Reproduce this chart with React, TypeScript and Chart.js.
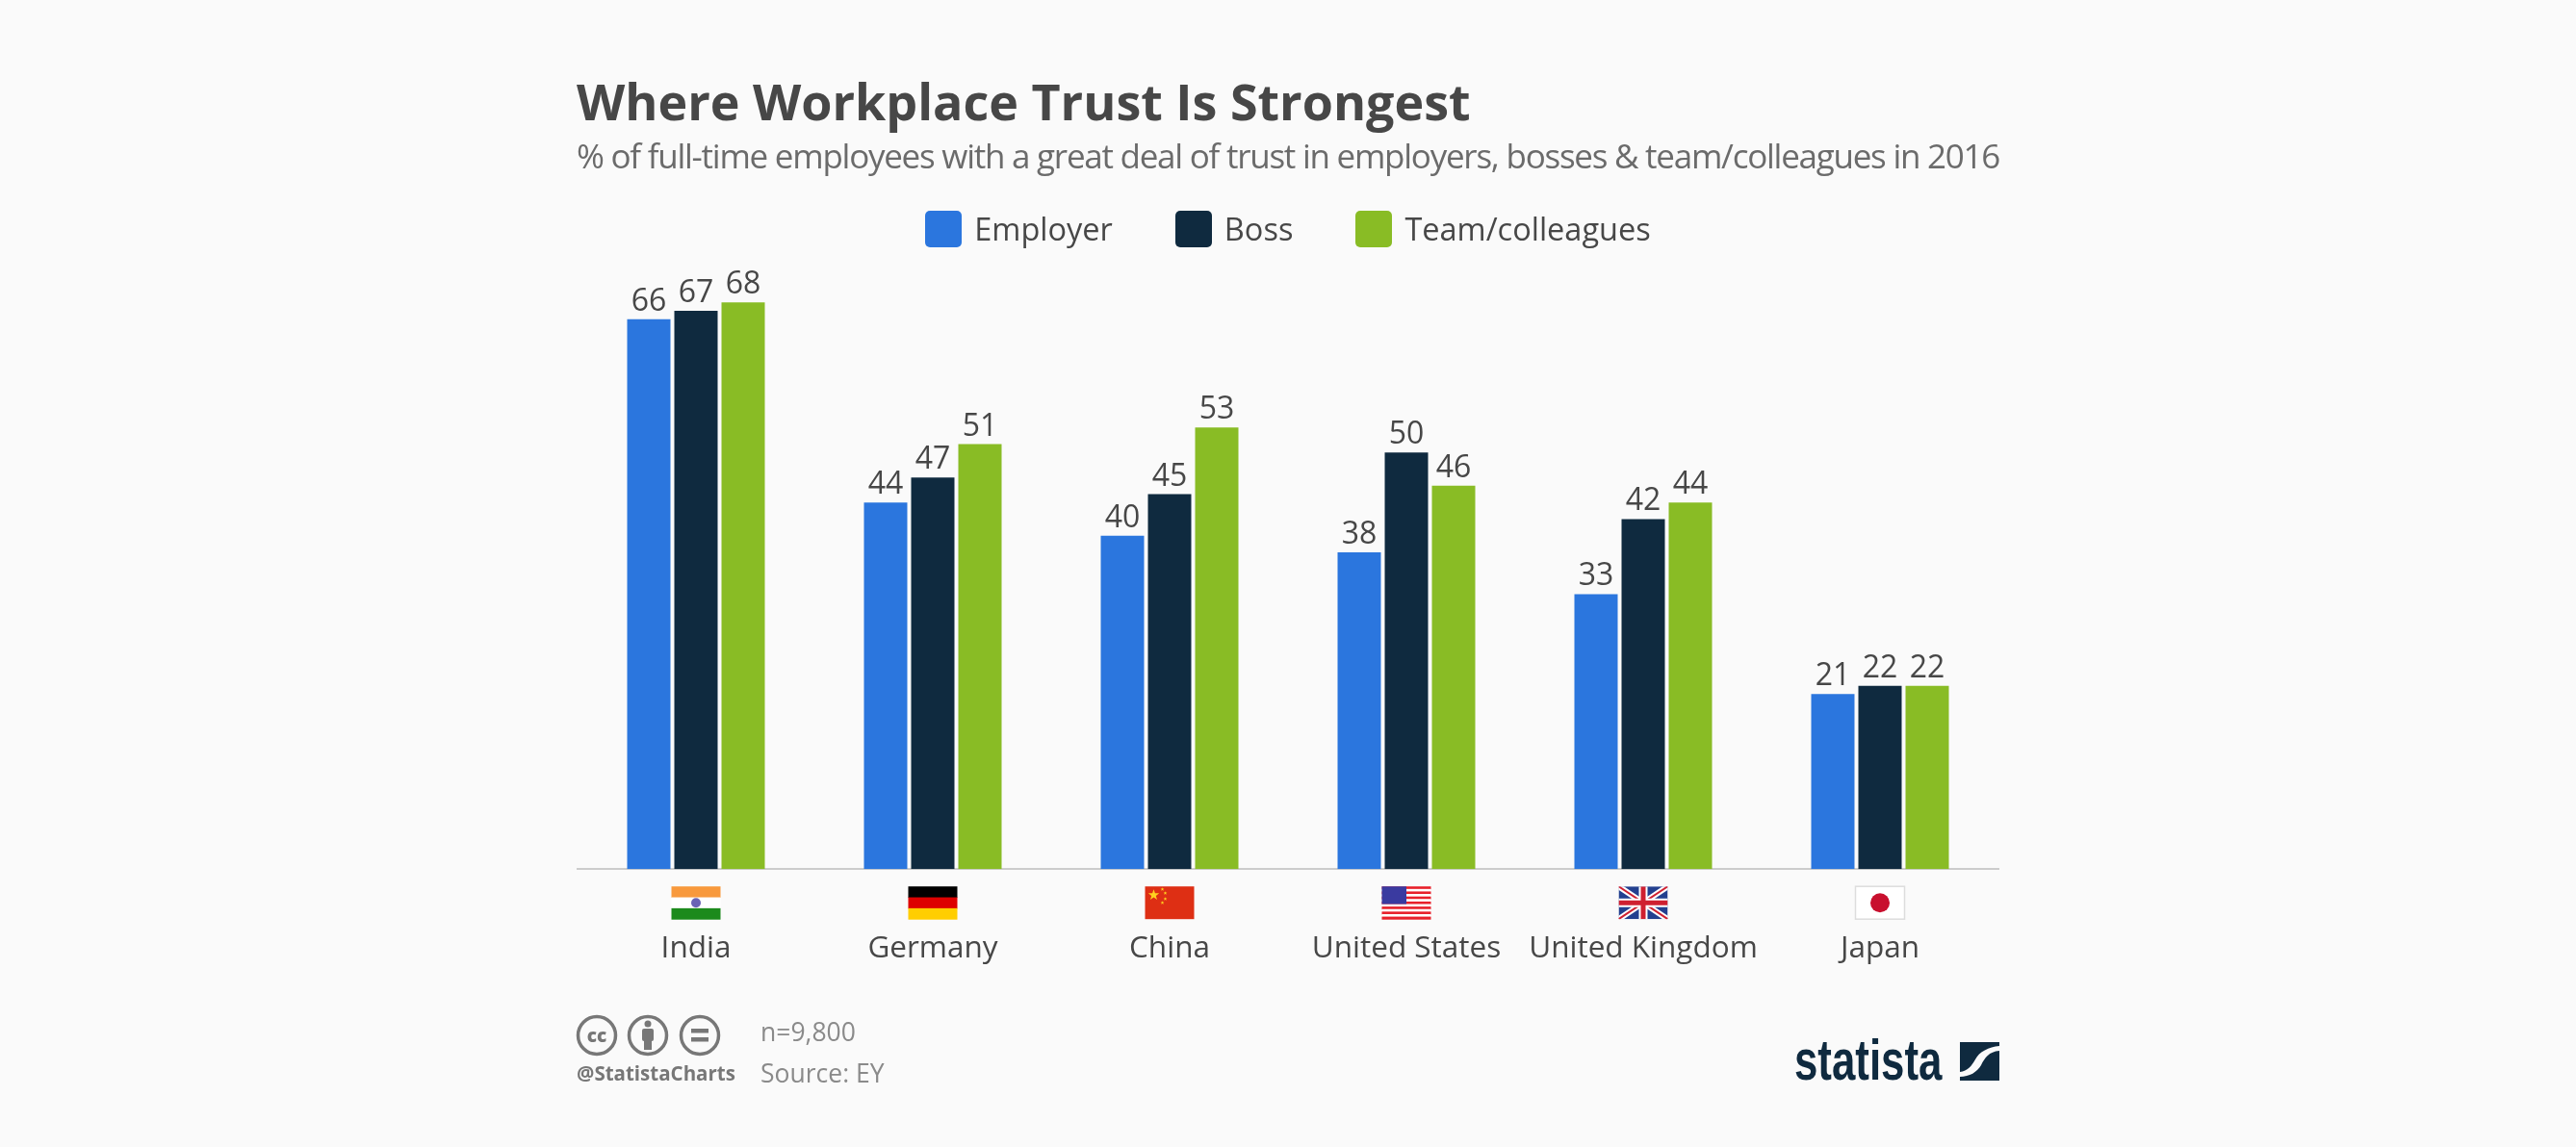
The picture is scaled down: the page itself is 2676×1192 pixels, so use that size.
import { useEffect, useRef } from 'react';
import { Chart, registerables } from 'chart.js';
import type { Plugin } from 'chart.js';

Chart.register(...registerables);

const countries = ['India', 'Germany', 'China', 'United States', 'United Kingdom', 'Japan'];
const employer = [66, 44, 40, 38, 33, 21];
const boss = [67, 47, 45, 50, 42, 22];
const team = [68, 51, 53, 46, 44, 22];

const seriesNames = ['Employer', 'Boss', 'Team/colleagues'];
const seriesColors = ['#2b76de', '#0f2a3f', '#89bc25'];

const TEXT_DARK = '#474747';
const FONT = '"Open Sans", sans-serif';

type FlagPainter = (ctx: CanvasRenderingContext2D, x: number, y: number, w: number, h: number) => void;

const bands = (colors: string[]): FlagPainter => (ctx, x, y, w, h) => {
  colors.forEach((c, i) => {
    ctx.fillStyle = c;
    ctx.fillRect(x, y + (i * h) / colors.length, w, h / colors.length + 0.5);
  });
};

const star = (ctx: CanvasRenderingContext2D, cx: number, cy: number, r: number) => {
  ctx.beginPath();
  for (let i = 0; i < 10; i++) {
    const rad = i % 2 === 0 ? r : r * 0.4;
    const a = -Math.PI / 2 + (i * Math.PI) / 5;
    ctx.lineTo(cx + rad * Math.cos(a), cy + rad * Math.sin(a));
  }
  ctx.closePath();
  ctx.fill();
};

const flags: FlagPainter[] = [
  // India
  (ctx, x, y, w, h) => {
    bands(['#f8993c', '#ffffff', '#1c8a1c'])(ctx, x, y, w, h);
    ctx.fillStyle = '#6a63b5';
    ctx.beginPath();
    ctx.arc(x + w / 2, y + h / 2, 5, 0, Math.PI * 2);
    ctx.fill();
  },
  // Germany
  bands(['#000000', '#dd0000', '#ffce00']),
  // China
  (ctx, x, y, w, h) => {
    ctx.fillStyle = '#de2f14';
    ctx.fillRect(x, y, w, h);
    ctx.fillStyle = '#ffd21f';
    star(ctx, x + 9, y + 9, 6);
    [[18, 3], [21, 7], [21, 13], [18, 17]].forEach(([dx, dy]) => star(ctx, x + dx, y + dy, 2));
  },
  // United States
  (ctx, x, y, w, h) => {
    const stripes = Array.from({ length: 13 }, (_, i) => (i % 2 === 0 ? '#e8202a' : '#ffffff'));
    bands(stripes)(ctx, x, y, w, h);
    ctx.fillStyle = '#3a3aa0';
    ctx.fillRect(x, y, w * 0.5, (h * 7) / 13);
  },
  // United Kingdom
  (ctx, x, y, w, h) => {
    ctx.save();
    ctx.beginPath();
    ctx.rect(x, y, w, h);
    ctx.clip();
    ctx.fillStyle = '#23408f';
    ctx.fillRect(x, y, w, h);
    const line = (color: string, width: number, x1: number, y1: number, x2: number, y2: number) => {
      ctx.strokeStyle = color;
      ctx.lineWidth = width;
      ctx.beginPath();
      ctx.moveTo(x1, y1);
      ctx.lineTo(x2, y2);
      ctx.stroke();
    };
    [['#ffffff', 6], ['#cf2030', 2]].forEach(([c, lw]) => {
      line(c as string, lw as number, x, y, x + w, y + h);
      line(c as string, lw as number, x + w, y, x, y + h);
    });
    [['#ffffff', 9], ['#cf2030', 5]].forEach(([c, lw]) => {
      line(c as string, lw as number, x + w / 2, y, x + w / 2, y + h);
      line(c as string, lw as number, x, y + h / 2, x + w, y + h / 2);
    });
    ctx.restore();
  },
  // Japan
  (ctx, x, y, w, h) => {
    ctx.fillStyle = '#ffffff';
    ctx.fillRect(x, y, w, h);
    ctx.strokeStyle = '#dddddd';
    ctx.lineWidth = 1.5;
    ctx.strokeRect(x, y, w, h);
    ctx.fillStyle = '#c8102e';
    ctx.beginPath();
    ctx.arc(x + w / 2, y + h / 2, 10, 0, Math.PI * 2);
    ctx.fill();
  },
];

// numbers above the bars
const valueLabels: Plugin<'bar'> = {
  id: 'valueLabels',
  afterDatasetsDraw(chart) {
    const { ctx } = chart;
    ctx.save();
    ctx.font = `32px ${FONT}`;
    ctx.fillStyle = TEXT_DARK;
    ctx.textAlign = 'center';
    ctx.textBaseline = 'alphabetic';
    chart.data.datasets.forEach((ds, i) => {
      chart.getDatasetMeta(i).data.forEach((bar, j) => {
        ctx.fillText(String(ds.data[j]), bar.x, bar.y - 9);
      });
    });
    ctx.restore();
  },
};

// flags between the axis line and the country names
const flagRow: Plugin<'bar'> = {
  id: 'flagRow',
  afterDraw(chart) {
    const { ctx, scales } = chart;
    const w = 51;
    const h = 34;
    const top = scales.x.top + 18;
    countries.forEach((_, i) => {
      const cx = scales.x.getPixelForTick(i);
      ctx.save();
      flags[i](ctx, cx - w / 2, top, w, h);
      ctx.restore();
    });
  },
};

const abs = (left: number, top: number, extra: React.CSSProperties = {}): React.CSSProperties => ({
  position: 'absolute',
  left,
  top,
  whiteSpace: 'nowrap',
  ...extra,
});

function CcIcons() {
  const stroke = '#777777';
  const icon = (cx: number, inner: React.ReactNode) => (
    <g key={cx}>
      <circle cx={cx} cy={22} r={19.5} fill="none" stroke={stroke} strokeWidth={3.5} />
      {inner}
    </g>
  );
  return (
    <svg width={152} height={44} style={abs(598, 1054)}>
      {icon(22, (
        <text x={22} y={29} textAnchor="middle" fontFamily={FONT} fontWeight={800} fontSize={19} fill={stroke}>cc</text>
      ))}
      {icon(75, (
        <g fill={stroke}>
          <circle cx={75} cy={10} r={3.5} />
          <rect x={69} y={15} width={12} height={13} rx={2} />
          <rect x={71} y={26} width={8} height={11} />
        </g>
      ))}
      {icon(129, (
        <g fill={stroke}>
          <rect x={120} y={15} width={18} height={4.5} />
          <rect x={120} y={24} width={18} height={4.5} />
        </g>
      ))}
    </svg>
  );
}

function StatistaLogo() {
  return (
    <>
      <div style={abs(1864, 1070, {
        font: 'bold 60px/64px "Liberation Sans", sans-serif',
        color: '#0f2a3f',
        transform: 'scaleX(0.73)',
        transformOrigin: 'left top',
      })}>statista</div>
      <svg width={41} height={40} style={abs(2036, 1083)}>
        <rect width={41} height={40} fill="#0f2a3f" />
        <path d="M41 4 L41 9 C30 10 26 16 22 24 C18 31 10 36 0 36 L0 31 C8 30 12 25 16 18 C20 10 30 5 41 4 Z" fill="#fafafa" />
      </svg>
    </>
  );
}

export default function App() {
  const canvasRef = useRef<HTMLCanvasElement>(null);

  useEffect(() => {
    document.body.style.margin = '0';
    document.body.style.background = '#fafafa';
    if (!canvasRef.current) return;

    const seriesData = [employer, boss, team];
    const chart = new Chart(canvasRef.current, {
      type: 'bar',
      data: {
        labels: countries,
        datasets: seriesNames.map((name, i) => ({
          label: name,
          data: seriesData[i],
          backgroundColor: seriesColors[i],
          borderWidth: 0,
          categoryPercentage: 0.5976,
          barPercentage: 0.918,
        })),
      },
      options: {
        animation: false,
        responsive: false,
        devicePixelRatio: 1,
        layout: { padding: { top: 297, left: 600, right: 600, bottom: 123 } },
        plugins: {
          legend: { display: false },
          title: { display: false },
          tooltip: { enabled: false },
        },
        scales: {
          y: { display: false, min: 0, max: 70 },
          x: {
            grid: { display: false, drawTicks: false },
            border: { color: '#cccccc', width: 2 },
            ticks: {
              padding: 64,
              autoSkip: false,
              maxRotation: 0,
              color: TEXT_DARK,
              font: { family: 'Open Sans', size: 31.5 },
            },
          },
        },
      },
      plugins: [valueLabels, flagRow],
    });

    return () => chart.destroy();
  }, []);

  return (
    <div style={{ position: 'relative', width: 2676, height: 1192, overflow: 'hidden', fontFamily: FONT }}>
      <canvas ref={canvasRef} width={2676} height={1192} style={{ position: 'absolute', left: 0, top: 0 }} />

      <div style={abs(599, 75, { font: `bold 52px/60px ${FONT}`, color: TEXT_DARK })}>
        Where Workplace Trust Is Strongest
      </div>
      <div style={abs(599, 140, { font: `35px/44px ${FONT}`, color: '#6b6b6b', letterSpacing: -1.25 })}>
        % of full-time employees with a great deal of trust in employers, bosses &amp; team/colleagues in 2016
      </div>

      <div style={{ position: 'absolute', left: 0, width: 2676, top: 219, display: 'flex', justifyContent: 'center', gap: 65 }}>
        {seriesNames.map((name, i) => (
          <div key={name} style={{ display: 'flex', alignItems: 'center', gap: 13, height: 38 }}>
            <span style={{ width: 38, height: 38, borderRadius: 5, background: seriesColors[i] }} />
            <span style={{ font: `32.5px/38px ${FONT}`, color: TEXT_DARK }}>{name}</span>
          </div>
        ))}
      </div>

      <CcIcons />
      <div style={abs(599, 1103, { font: `bold 20.5px/24px ${FONT}`, color: '#777777' })}>@StatistaCharts</div>
      <div style={abs(790, 1056, { font: `26.5px/32px ${FONT}`, color: '#8a8a8a' })}>n=9,800</div>
      <div style={abs(790, 1099, { font: `26.5px/32px ${FONT}`, color: '#8a8a8a' })}>Source: EY</div>
      <StatistaLogo />
    </div>
  );
}
